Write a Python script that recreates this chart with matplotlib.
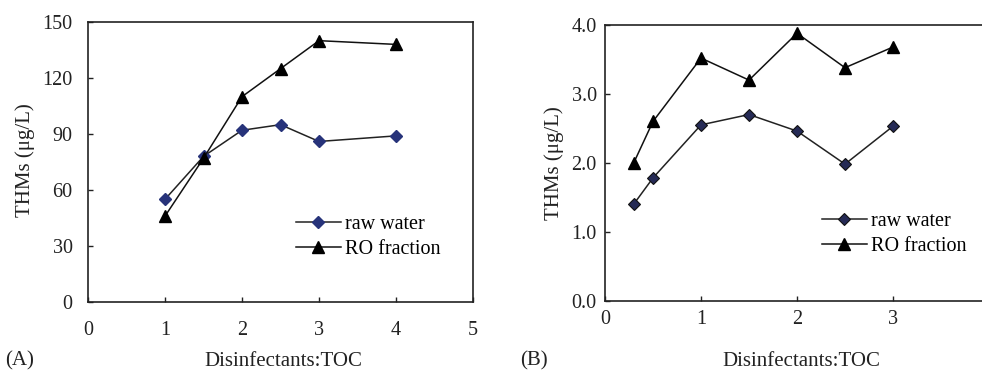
import matplotlib
matplotlib.use("Agg")
import matplotlib.pyplot as plt

plt.rcParams['font.family'] = ['Liberation Serif', 'DejaVu Serif']

# Panel A data
xa_raw = [1, 1.5, 2, 2.5, 3, 4]
ya_raw = [55, 78, 92, 95, 86, 89]
xa_ro = [1, 1.5, 2, 2.5, 3, 4]
ya_ro = [46, 77, 110, 125, 140, 138]

# Panel B data
xb_raw = [0.3, 0.5, 1, 1.5, 2, 2.5, 3]
yb_raw = [1.4, 1.78, 2.55, 2.7, 2.46, 1.98, 2.53]
xb_ro = [0.3, 0.5, 1, 1.5, 2, 2.5, 3]
yb_ro = [2.0, 2.6, 3.52, 3.2, 3.88, 3.38, 3.68]

a_yticks = [0, 30, 60, 90, 120, 150]
a_xticks = [0, 1, 2, 3, 4, 5]
b_yticks = [0.0, 1.0, 2.0, 3.0, 4.0]
b_xticks = [0, 1, 2, 3, 4]

labels = ["raw water", "RO fraction"]

W, H = 982, 375
fig = plt.figure(figsize=(W / 100, H / 100), dpi=100)

def box(l, t, r, b):
    return [l / W, 1 - b / H, (r - l) / W, (b - t) / H]

axA = fig.add_axes(box(88, 22, 473, 302))
axB = fig.add_axes(box(605, 25, 989, 300.5))

fs = 14.5
tc = '#222222'
for ax in (axA, axB):
    for s in ax.spines.values():
        s.set_linewidth(1.2)
        s.set_color(tc)
    ax.tick_params(direction='in', length=3.5, width=1, labelsize=fs, colors=tc)

axA.tick_params(axis='y', pad=11)
axA.tick_params(axis='x', pad=14)
axB.tick_params(axis='y', pad=6)
axB.tick_params(axis='x', pad=7)

# Panel A
axA.plot(xa_raw, ya_raw, color=tc, lw=1.1, marker='D', ms=6.5,
         mfc='#27337a', mec='#27337a', label=labels[0])
axA.plot(xa_ro, ya_ro, color='#111111', lw=1.1, marker='^', ms=9,
         mfc='black', mec='black', label=labels[1])
axA.set_xlim(0, 5)
axA.set_ylim(0, 150)
axA.set_xticks(a_xticks)
axA.set_yticks(a_yticks)
axA.legend(loc='upper left', bbox_to_anchor=(0.52, 0.34), frameon=False,
           fontsize=fs, handlelength=2.2, handletextpad=0.2, labelspacing=0.3,
           borderaxespad=0)

# Panel B
axB.plot(xb_raw, yb_raw, color=tc, lw=1.1, marker='D', ms=6.5,
         mfc='#252a55', mec='#111111', mew=0.8, label=labels[0])
axB.plot(xb_ro, yb_ro, color='#111111', lw=1.1, marker='^', ms=9,
         mfc='black', mec='black', label=labels[1])
axB.set_xlim(0, 4)
axB.set_ylim(0, 4)
axB.set_xticks(b_xticks)
axB.set_yticks(b_yticks)
axB.set_yticklabels([f"{v:.1f}" for v in b_yticks])
axB.legend(loc='upper left', bbox_to_anchor=(0.545, 0.352), frameon=False,
           fontsize=fs, handlelength=2.2, handletextpad=0.2, labelspacing=0.3,
           borderaxespad=0)

# Labels
fl = 15
ylab = "THMs (μg/L)"
fig.text(25 / W, 1 - 160 / H, ylab, rotation=90, ha='center', va='center', fontsize=fl, color=tc)
fig.text(554 / W, 1 - 163 / H, ylab, rotation=90, ha='center', va='center', fontsize=fl, color=tc)
fig.text(283 / W, 1 - 361 / H, "Disinfectants:TOC", ha='center', va='center', fontsize=fl, color=tc)
fig.text(801 / W, 1 - 361 / H, "Disinfectants:TOC", ha='center', va='center', fontsize=fl, color=tc)
fig.text(5 / W, 1 - 361 / H, "(A)", ha='left', va='center', fontsize=fl, color=tc)
fig.text(520 / W, 1 - 361 / H, "(B)", ha='left', va='center', fontsize=fl, color=tc)

fig.savefig("out.png", dpi=100)
